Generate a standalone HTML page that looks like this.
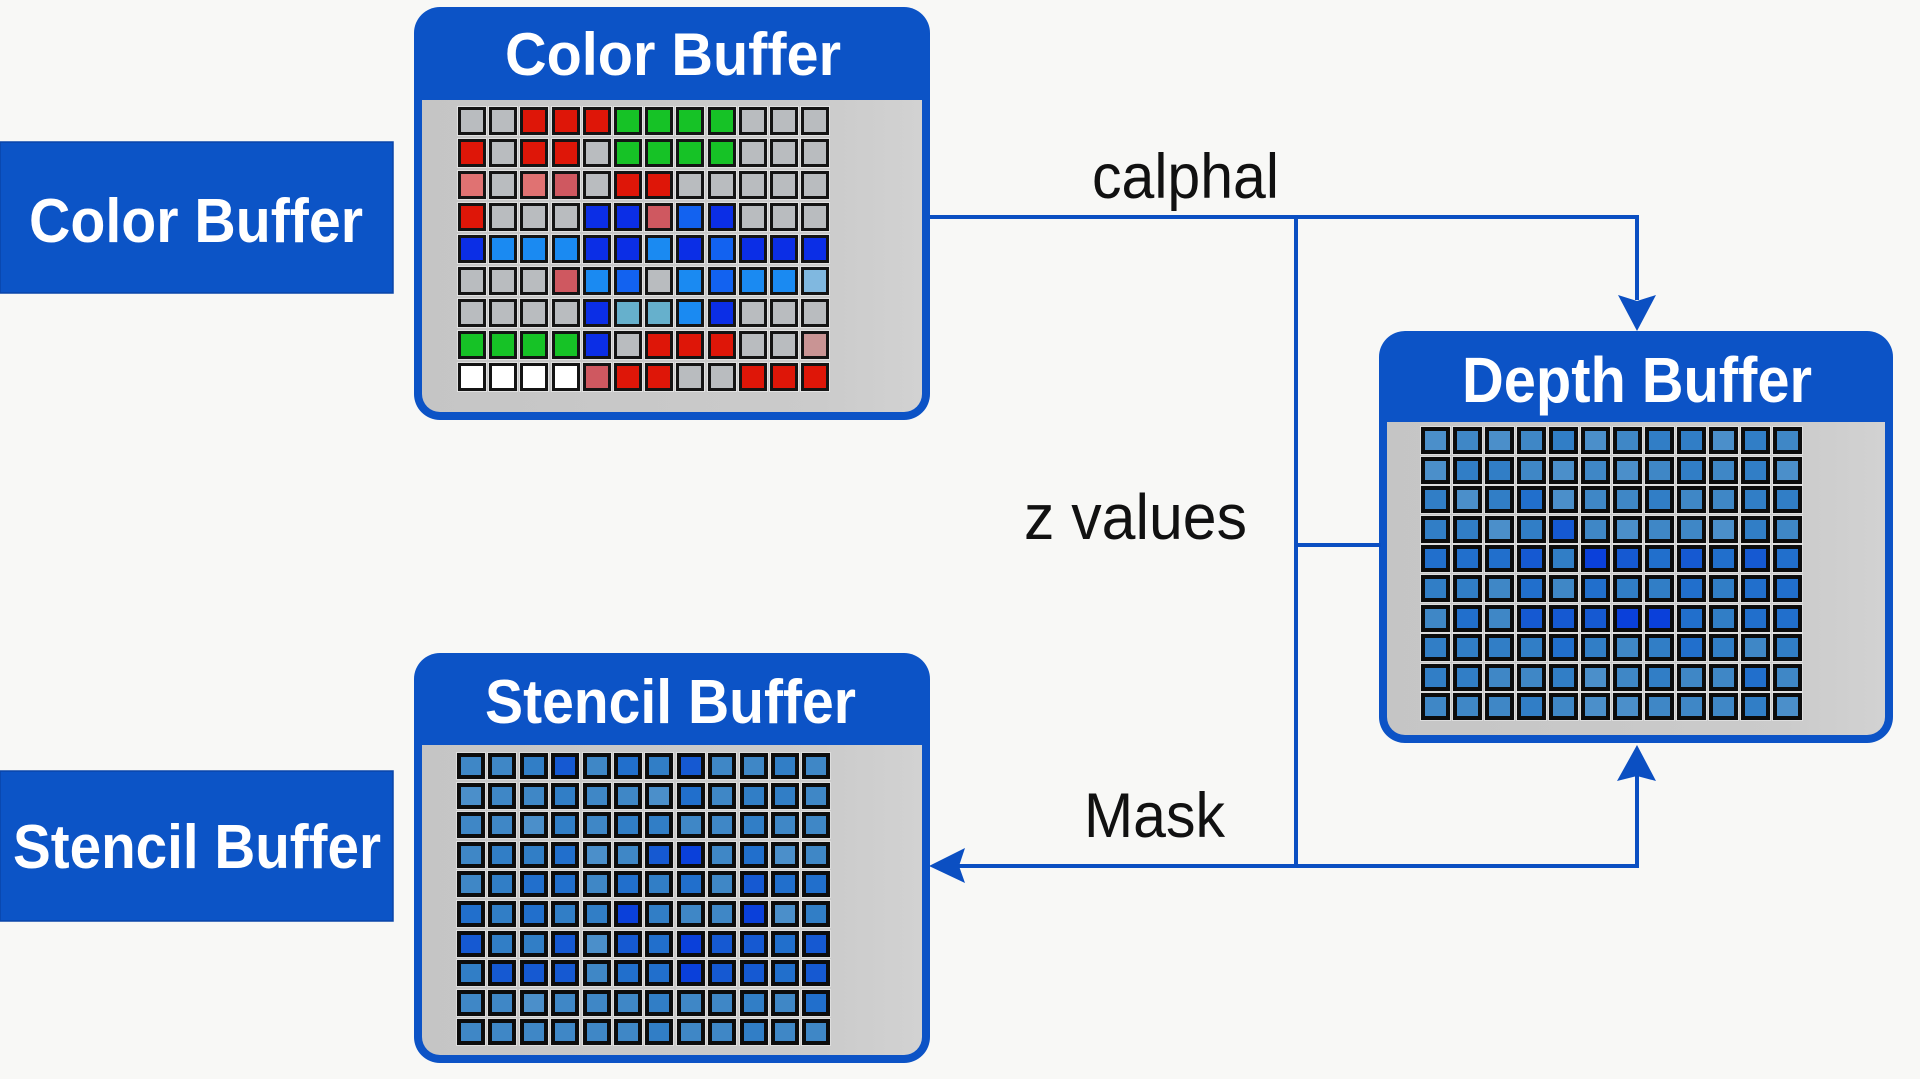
<!DOCTYPE html>
<html>
<head>
<meta charset="utf-8">
<style>
  html,body{margin:0;padding:0;}
  body{width:1920px;height:1079px;overflow:hidden;background:#f8f8f6;position:relative;font-family:"Liberation Sans",sans-serif;}
  svg.main{position:absolute;left:0;top:0;z-index:0;}
  .grid{position:absolute;display:grid;z-index:1;}
  .grid i{display:block;box-sizing:border-box;}
  /* color buffer grid */
  .cg{left:458px;top:107px;grid-template-columns:repeat(12,28px);grid-auto-rows:28px;column-gap:3.2px;row-gap:4px;}
  .cg i{border:3px solid #141414;box-shadow:0 0 0 1px rgba(235,235,235,.7);}
  .cg .g{background:#b9bcbf}
  .cg .gn{background:#16c226}
  .cg .rd{background:#de1608}
  .cg .p{background:#e07272}
  .cg .q{background:#cf5860}
  .cg .bl{background:#0b2ee6}
  .cg .lb{background:#1a8af2}
  .cg .m{background:#1262f0}
  .cg .t{background:#66b0cc}
  .cg .w{background:#ffffff}
  .cg .pp{background:#c99494}
  .cg .lbb{background:#80b8e0}
  /* depth grid */
  .dg{left:1421px;top:427px;grid-template-columns:repeat(12,29px);grid-auto-rows:27px;column-gap:3px;row-gap:2.6px;}
  .dg i{border:4px solid #0c0c0c;box-shadow:0 0 0 1px rgba(235,235,235,.6);}
  /* stencil grid */
  .sg{left:457px;top:753px;grid-template-columns:repeat(12,28px);grid-auto-rows:26px;column-gap:3.4px;row-gap:3.6px;}
  .sg i{border:4px solid #0c0c0c;box-shadow:0 0 0 1px rgba(235,235,235,.6);}
  .grid .a{background:#4b8fca}
  .grid .b{background:#3f87c6}
  .grid .c{background:#317ec6}
  .grid .d{background:#216fcc}
  .grid .e{background:#1559d2}
  .grid .f{background:#0a40da}
</style>
</head>
<body>
<svg class="main" width="1920" height="1079" viewBox="0 0 1920 1079" xmlns="http://www.w3.org/2000/svg">
  <defs>
    <linearGradient id="gy" x1="0" y1="0" x2="1" y2="0">
      <stop offset="0" stop-color="#c5c5c5"/>
      <stop offset="0.8" stop-color="#cbcbcb"/>
      <stop offset="1" stop-color="#d2d2d2"/>
    </linearGradient>
  </defs>

  <!-- left labels -->
  <rect x="0" y="142" width="393" height="151" fill="#0c54c6" stroke="#0a45a8" stroke-width="1.5"/>
  <rect x="0" y="771" width="393" height="150" fill="#0c54c6" stroke="#0a45a8" stroke-width="1.5"/>

  <!-- Color buffer box -->
  <rect x="414" y="7" width="516" height="413" rx="26" ry="26" fill="#0c53c6"/>
  <path d="M422,100 H922 V394 A18,18 0 0 1 904,412 H440 A18,18 0 0 1 422,394 Z" fill="url(#gy)"/>

  <!-- Depth buffer box -->
  <rect x="1379" y="331" width="514" height="412" rx="26" ry="26" fill="#0c53c6"/>
  <path d="M1387,422 H1885 V717 A18,18 0 0 1 1867,735 H1405 A18,18 0 0 1 1387,717 Z" fill="url(#gy)"/>

  <!-- Stencil buffer box -->
  <rect x="414" y="653" width="516" height="410" rx="26" ry="26" fill="#0c53c6"/>
  <path d="M422,745 H922 V1037 A18,18 0 0 1 904,1055 H440 A18,18 0 0 1 422,1037 Z" fill="url(#gy)"/>

  <!-- connectors -->
  <g fill="none" stroke="#0b4fc2" stroke-width="4">
    <path d="M930,217 H1637 V300"/>
    <path d="M1296,217 V866"/>
    <path d="M1296,545 H1381"/>
    <path d="M958,866 H1637 V776"/>
  </g>
  <g fill="#0b4fc2">
    <polygon points="1618,295 1637,301 1656,295 1637,331"/>
    <polygon points="1617,781 1637,776 1656,781 1637,745"/>
    <polygon points="929,866 965,848 959,866 965,883"/>
  </g>

  <!-- header / label texts -->
  <g font-family="Liberation Sans, sans-serif" font-weight="bold" fill="#ffffff">
    <text x="29" y="242" font-size="62" textLength="334" lengthAdjust="spacingAndGlyphs">Color Buffer</text>
    <text x="13" y="868" font-size="62" textLength="368" lengthAdjust="spacingAndGlyphs">Stencil Buffer</text>
    <text x="505" y="75" font-size="60" textLength="336" lengthAdjust="spacingAndGlyphs">Color Buffer</text>
    <text x="1462" y="402" font-size="64" textLength="350" lengthAdjust="spacingAndGlyphs">Depth Buffer</text>
    <text x="485" y="723" font-size="62" textLength="371" lengthAdjust="spacingAndGlyphs">Stencil Buffer</text>
  </g>
  <g font-family="Liberation Sans, sans-serif" fill="#111111">
    <text x="1092" y="198" font-size="63" textLength="187" lengthAdjust="spacingAndGlyphs">calphal</text>
    <text x="1024" y="539" font-size="64" textLength="223" lengthAdjust="spacingAndGlyphs">z values</text>
    <text x="1084" y="837" font-size="63" textLength="141" lengthAdjust="spacingAndGlyphs">Mask</text>
  </g>
</svg>

<!-- Color buffer grid 12x9 -->
<div class="grid cg">
  <i class="g"></i><i class="g"></i><i class="rd"></i><i class="rd"></i><i class="rd"></i><i class="gn"></i><i class="gn"></i><i class="gn"></i><i class="gn"></i><i class="g"></i><i class="g"></i><i class="g"></i>
  <i class="rd"></i><i class="g"></i><i class="rd"></i><i class="rd"></i><i class="g"></i><i class="gn"></i><i class="gn"></i><i class="gn"></i><i class="gn"></i><i class="g"></i><i class="g"></i><i class="g"></i>
  <i class="p"></i><i class="g"></i><i class="p"></i><i class="q"></i><i class="g"></i><i class="rd"></i><i class="rd"></i><i class="g"></i><i class="g"></i><i class="g"></i><i class="g"></i><i class="g"></i>
  <i class="rd"></i><i class="g"></i><i class="g"></i><i class="g"></i><i class="bl"></i><i class="bl"></i><i class="q"></i><i class="m"></i><i class="bl"></i><i class="g"></i><i class="g"></i><i class="g"></i>
  <i class="bl"></i><i class="lb"></i><i class="lb"></i><i class="lb"></i><i class="bl"></i><i class="bl"></i><i class="lb"></i><i class="bl"></i><i class="m"></i><i class="bl"></i><i class="bl"></i><i class="bl"></i>
  <i class="g"></i><i class="g"></i><i class="g"></i><i class="q"></i><i class="lb"></i><i class="m"></i><i class="g"></i><i class="lb"></i><i class="m"></i><i class="lb"></i><i class="lb"></i><i class="lbb"></i>
  <i class="g"></i><i class="g"></i><i class="g"></i><i class="g"></i><i class="bl"></i><i class="t"></i><i class="t"></i><i class="lb"></i><i class="bl"></i><i class="g"></i><i class="g"></i><i class="g"></i>
  <i class="gn"></i><i class="gn"></i><i class="gn"></i><i class="gn"></i><i class="bl"></i><i class="g"></i><i class="rd"></i><i class="rd"></i><i class="rd"></i><i class="g"></i><i class="g"></i><i class="pp"></i>
  <i class="w"></i><i class="w"></i><i class="w"></i><i class="w"></i><i class="q"></i><i class="rd"></i><i class="rd"></i><i class="g"></i><i class="g"></i><i class="rd"></i><i class="rd"></i><i class="rd"></i>
</div>

<!-- Depth buffer grid 12x10 -->
<div class="grid dg">
  <i class="a"></i><i class="b"></i><i class="a"></i><i class="b"></i><i class="c"></i><i class="a"></i><i class="b"></i><i class="c"></i><i class="c"></i><i class="a"></i><i class="c"></i><i class="b"></i>
  <i class="a"></i><i class="c"></i><i class="c"></i><i class="b"></i><i class="a"></i><i class="b"></i><i class="a"></i><i class="b"></i><i class="c"></i><i class="b"></i><i class="c"></i><i class="a"></i>
  <i class="c"></i><i class="a"></i><i class="c"></i><i class="d"></i><i class="a"></i><i class="b"></i><i class="b"></i><i class="c"></i><i class="b"></i><i class="b"></i><i class="c"></i><i class="c"></i>
  <i class="c"></i><i class="c"></i><i class="a"></i><i class="c"></i><i class="e"></i><i class="b"></i><i class="a"></i><i class="b"></i><i class="b"></i><i class="a"></i><i class="c"></i><i class="b"></i>
  <i class="d"></i><i class="d"></i><i class="d"></i><i class="e"></i><i class="c"></i><i class="f"></i><i class="e"></i><i class="d"></i><i class="e"></i><i class="d"></i><i class="e"></i><i class="d"></i>
  <i class="c"></i><i class="c"></i><i class="b"></i><i class="d"></i><i class="b"></i><i class="d"></i><i class="c"></i><i class="c"></i><i class="d"></i><i class="c"></i><i class="d"></i><i class="d"></i>
  <i class="b"></i><i class="d"></i><i class="b"></i><i class="e"></i><i class="e"></i><i class="e"></i><i class="f"></i><i class="f"></i><i class="d"></i><i class="c"></i><i class="d"></i><i class="d"></i>
  <i class="c"></i><i class="c"></i><i class="c"></i><i class="c"></i><i class="d"></i><i class="c"></i><i class="b"></i><i class="c"></i><i class="d"></i><i class="c"></i><i class="b"></i><i class="c"></i>
  <i class="c"></i><i class="c"></i><i class="b"></i><i class="b"></i><i class="c"></i><i class="a"></i><i class="b"></i><i class="c"></i><i class="b"></i><i class="b"></i><i class="d"></i><i class="b"></i>
  <i class="b"></i><i class="b"></i><i class="b"></i><i class="c"></i><i class="b"></i><i class="a"></i><i class="a"></i><i class="b"></i><i class="b"></i><i class="b"></i><i class="c"></i><i class="a"></i>
</div>

<!-- Stencil buffer grid 12x10 -->
<div class="grid sg">
  <i class="b"></i><i class="b"></i><i class="c"></i><i class="e"></i><i class="b"></i><i class="d"></i><i class="c"></i><i class="e"></i><i class="b"></i><i class="b"></i><i class="c"></i><i class="b"></i>
  <i class="a"></i><i class="b"></i><i class="b"></i><i class="c"></i><i class="b"></i><i class="b"></i><i class="a"></i><i class="d"></i><i class="b"></i><i class="c"></i><i class="c"></i><i class="b"></i>
  <i class="b"></i><i class="b"></i><i class="a"></i><i class="c"></i><i class="b"></i><i class="c"></i><i class="c"></i><i class="b"></i><i class="b"></i><i class="c"></i><i class="b"></i><i class="b"></i>
  <i class="b"></i><i class="c"></i><i class="c"></i><i class="d"></i><i class="a"></i><i class="b"></i><i class="e"></i><i class="f"></i><i class="b"></i><i class="d"></i><i class="a"></i><i class="b"></i>
  <i class="b"></i><i class="c"></i><i class="d"></i><i class="d"></i><i class="b"></i><i class="d"></i><i class="c"></i><i class="d"></i><i class="b"></i><i class="e"></i><i class="d"></i><i class="d"></i>
  <i class="d"></i><i class="c"></i><i class="d"></i><i class="c"></i><i class="c"></i><i class="f"></i><i class="c"></i><i class="b"></i><i class="b"></i><i class="f"></i><i class="a"></i><i class="c"></i>
  <i class="e"></i><i class="c"></i><i class="c"></i><i class="e"></i><i class="a"></i><i class="e"></i><i class="d"></i><i class="f"></i><i class="e"></i><i class="e"></i><i class="d"></i><i class="e"></i>
  <i class="c"></i><i class="e"></i><i class="e"></i><i class="e"></i><i class="b"></i><i class="d"></i><i class="d"></i><i class="f"></i><i class="e"></i><i class="e"></i><i class="d"></i><i class="e"></i>
  <i class="b"></i><i class="b"></i><i class="a"></i><i class="b"></i><i class="b"></i><i class="b"></i><i class="c"></i><i class="b"></i><i class="b"></i><i class="c"></i><i class="b"></i><i class="d"></i>
  <i class="b"></i><i class="b"></i><i class="b"></i><i class="b"></i><i class="b"></i><i class="b"></i><i class="c"></i><i class="b"></i><i class="b"></i><i class="c"></i><i class="b"></i><i class="b"></i>
</div>
</body>
</html>
